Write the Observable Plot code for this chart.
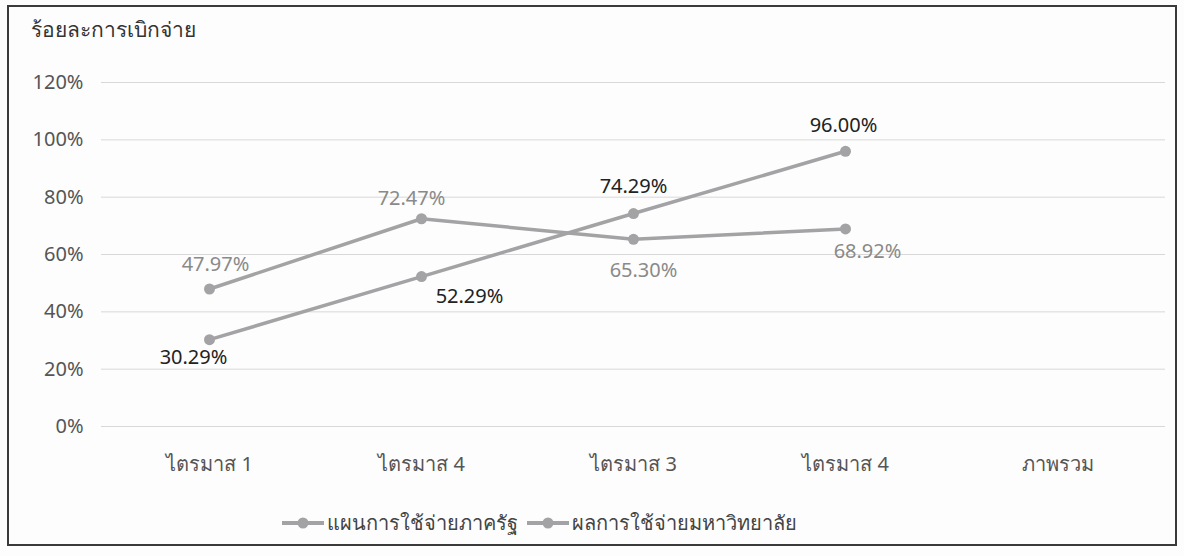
<!DOCTYPE html>
<html>
<head>
<meta charset="utf-8">
<script src="https://cdn.jsdelivr.net/npm/d3@7"></script>
<script src="https://cdn.jsdelivr.net/npm/@observablehq/plot@0.6"></script>
<style>
  html, body { margin: 0; padding: 0; background: #fdfdfd; }
  body { width: 1184px; height: 556px; position: relative; overflow: hidden;
         font-family: "Noto Sans", "Open Sans", sans-serif; }
  #frame { position: absolute; left: 7px; top: 5px; width: 1170px; height: 541px;
           border: 2px solid #3a3a3a; box-sizing: border-box; }
  #ylabel { position: absolute; left: 31px; top: 13px; font-size: 21px; color: #333; }
  #chart { position: absolute; left: 0; top: 50px; }
  #legend { position: absolute; left: 281px; top: 507px; display: flex;
            gap: 8px; font-size: 20px; color: #444; }
  .item { display: flex; align-items: center; gap: 2px; }
</style>
</head>
<body>
<div id="frame"></div>
<div id="ylabel">ร้อยละการเบิกจ่าย</div>
<div id="chart"></div>
<div id="legend"></div>
<script>
const categories = ["ไตรมาส 1", "ไตรมาส 4", "ไตรมาส 3", "ไตรมาส 4", "ภาพรวม"];
const seriesNames = ["แผนการใช้จ่ายภาครัฐ", "ผลการใช้จ่ายมหาวิทยาลัย"];
const planValues = [30.29, 52.29, 74.29, 96.00];
const actualValues = [47.97, 72.47, 65.30, 68.92];
const yTicks = [0, 20, 40, 60, 80, 100, 120];

const plan = planValues.map((v, i) => ({i, v, s: seriesNames[0]}));
const actual = actualValues.map((v, i) => ({i, v, s: seriesNames[1]}));

const lineColor = "#a3a3a5";
const fmt = d => d.v.toFixed(2) + "%";

// label offsets (styling) per point index
const planOff = [[-16, 18], [48, 20], [0, -27], [-2, -26]];
const actualOff = [[6, -24], [-10, -20], [10, 31], [22, 23]];

const labelMarks = [];
plan.forEach((d, k) => labelMarks.push(Plot.text([d], {x: "i", y: "v", text: fmt, dx: planOff[k][0], dy: planOff[k][1], fill: "#222", fontSize: 20})));
actual.forEach((d, k) => labelMarks.push(Plot.text([d], {x: "i", y: "v", text: fmt, dx: actualOff[k][0], dy: actualOff[k][1], fill: "#8a8a8a", fontSize: 20})));

const chart = Plot.plot({
  width: 1184,
  height: 450,
  marginLeft: 101,
  marginRight: 19,
  marginTop: 32,
  marginBottom: 74,
  style: {fontFamily: "'Noto Sans', 'Open Sans', sans-serif", background: "transparent", overflow: "visible"},
  x: {type: "band", domain: d3.range(categories.length), tickFormat: i => categories[i], tickSize: 0, tickPadding: 30, label: null, padding: 0},
  y: {domain: [0, 120], ticks: yTicks, tickFormat: d => d + "%", tickSize: 0, tickPadding: 18, label: null},
  marks: [
    Plot.ruleY(yTicks, {stroke: "#d8d8d8", strokeWidth: 1}),
    Plot.line(plan, {x: "i", y: "v", stroke: lineColor, strokeWidth: 3.5}),
    Plot.line(actual, {x: "i", y: "v", stroke: lineColor, strokeWidth: 3.5}),
    Plot.dot(plan, {x: "i", y: "v", r: 5.5, fill: lineColor}),
    Plot.dot(actual, {x: "i", y: "v", r: 5.5, fill: lineColor}),
    ...labelMarks
  ]
});
d3.select(chart).selectAll("g[aria-label='x-axis tick label'], g[aria-label='y-axis tick label']").attr("font-size", 20).attr("fill", "#555");
document.getElementById("chart").appendChild(chart);

const legend = d3.select("#legend");
seriesNames.forEach(name => {
  const it = legend.append("div").attr("class", "item");
  const sw = it.append("svg").attr("width", 44).attr("height", 20);
  sw.append("line").attr("x1", 1).attr("x2", 43).attr("y1", 10).attr("y2", 10).attr("stroke", lineColor).attr("stroke-width", 4);
  sw.append("circle").attr("cx", 22).attr("cy", 10).attr("r", 5.5).attr("fill", lineColor);
  it.append("span").text(name);
});
</script>
</body>
</html>
